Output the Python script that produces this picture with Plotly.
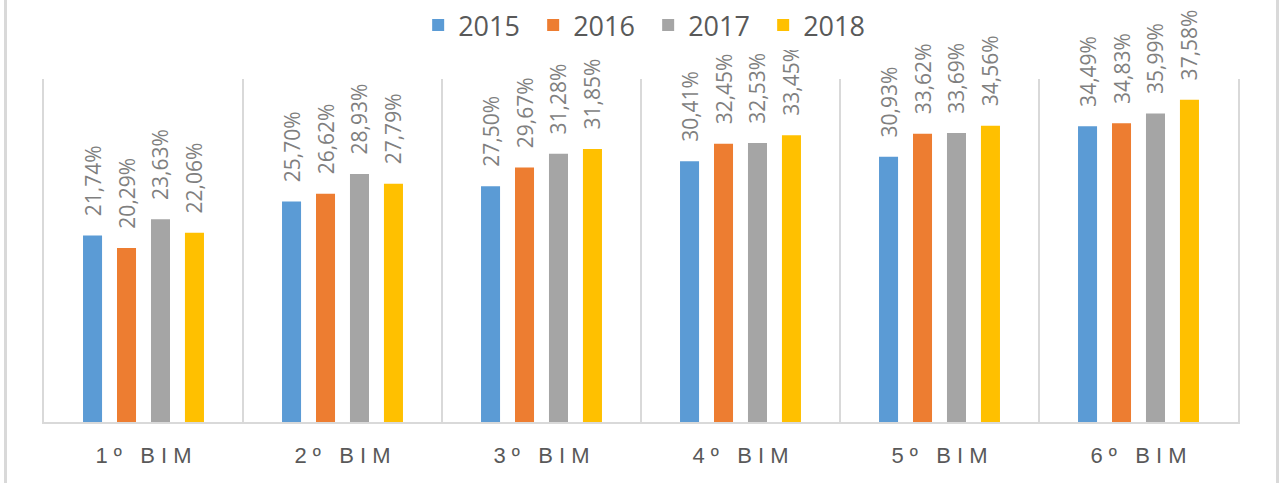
import plotly.graph_objects as go

categories = ["1º BIM", "2º BIM", "3º BIM", "4º BIM", "5º BIM", "6º BIM"]
series_names = ["2015", "2016", "2017", "2018"]
v2015 = [21.74, 25.70, 27.50, 30.41, 30.93, 34.49]
v2016 = [20.29, 26.62, 29.67, 32.45, 33.62, 34.83]
v2017 = [23.63, 28.93, 31.28, 32.53, 33.69, 35.99]
v2018 = [22.06, 27.79, 31.85, 33.45, 34.56, 37.58]
colors = ["#5B9BD5", "#ED7D31", "#A5A5A5", "#FFC000"]

NBSP = "\u00a0"
ticktext = [NBSP.join(list(c.replace(" ", NBSP))) for c in categories]

W, H = 1284, 483
ml, mr, mt, mb = 44, 46, 79, 61
pw, ph = W - ml - mr, H - mt - mb

fig = go.Figure()
for name, vals, col in zip(series_names, [v2015, v2016, v2017, v2018], colors):
    fig.add_trace(go.Bar(
        name=name, x=categories, y=vals,
        marker=dict(color=col, line=dict(width=0)),
        texttemplate=NBSP * 3 + "%{y:.2f}%",
        textposition="outside", textangle=-90,
        constraintext="none", cliponaxis=False,
        textfont=dict(family="Open Sans", size=21, color="#7F7F7F"),
        hoverinfo="skip",
    ))

fig.update_layout(
    width=W, height=H,
    margin=dict(l=ml, r=mr, t=mt, b=mb, autoexpand=False),
    paper_bgcolor="white", plot_bgcolor="white",
    barmode="group", bargap=0.317, bargroupgap=0.44,
    separators=",.",
    showlegend=True,
    legend=dict(orientation="h", x=0.506, xanchor="center",
                y=(H - mb - 1) / ph, yanchor="top",
                font=dict(family="Open Sans", size=27, color="#595959"),
                itemwidth=30, entrywidth=70, traceorder="normal"),
    xaxis=dict(type="category", tickson="boundaries", showgrid=True,
               gridcolor="#D9D9D9", gridwidth=2,
               showline=True, linecolor="#D9D9D9", linewidth=2,
               ticks="", tickmode="array", tickvals=categories, ticktext=ticktext,
               tickfont=dict(family="Liberation Sans", size=22, color="#595959"),
               ticklabelstandoff=13, fixedrange=True),
    yaxis=dict(range=[0, 40], showgrid=False, zeroline=False,
               showticklabels=False, ticks="",
               showline=True, mirror=True, linecolor="#D9D9D9", linewidth=2,
               fixedrange=True),
    shapes=[
        dict(type="line", xref="paper", yref="paper",
             x0=(5.5 - ml) / pw, x1=(5.5 - ml) / pw,
             y0=(H - mb) / ph, y1=(H - mb - H) / ph,
             line=dict(color="#D9D9D9", width=3)),
        dict(type="line", xref="paper", yref="paper",
             x0=(1277.5 - ml) / pw, x1=(1277.5 - ml) / pw,
             y0=(H - mb) / ph, y1=(H - mb - H) / ph,
             line=dict(color="#D9D9D9", width=3)),
    ],
)

fig.write_html(
    "out.html",
    config={"displayModeBar": False},
    post_script="document.body.style.margin='0';document.body.style.overflow='hidden';",
)
